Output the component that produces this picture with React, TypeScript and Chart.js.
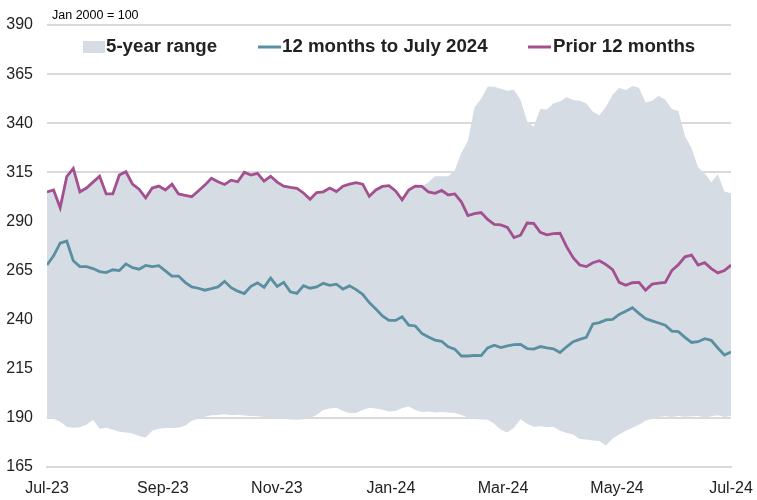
import React, { useEffect, useRef } from "react";
import { Chart, registerables } from "chart.js";

Chart.register(...registerables);

// Time axis: days since 1 Jul 2023 (0 … 366)
const tickDays = [0, 62, 123, 184, 244, 305, 366];
const tickLabels = ["Jul-23", "Sep-23", "Nov-23", "Jan-24", "Mar-24", "May-24", "Jul-24"];
const yTicks = [165, 190, 215, 240, 265, 290, 315, 340, 365, 390];

const legendLabels = ["5-year range", "12 months to July 2024", "Prior 12 months"];
const noteText = "Jan 2000 = 100";

// 12 months to July 2024
const latest12m = [
  267.8, 272.5, 279, 280, 270, 267, 267, 266, 264.5, 264, 265.4, 265, 268.4, 266.5, 265.7,
  267.6, 267, 267.5, 264.8, 262.2, 262.2, 259, 256.7, 256, 255, 255.8, 256.7, 259.5, 256.3,
  254.5, 253.3, 257, 258.7, 256.5, 261.2, 256.9, 259, 254.2, 253.4, 257.3, 256, 256.7, 258.5,
  257.5, 258.1, 255.6, 257.2, 255.3, 252.9, 248.7, 245.4, 241.9, 239.6, 239.6, 241.5, 237.2,
  236.8, 233, 231.2, 229.6, 229, 226.2, 225, 221.5, 221.5, 221.8, 221.7, 225.6, 227, 225.8,
  226.6, 227.3, 227.4, 225.3, 225, 226.3, 225.6, 225.2, 223.3, 226.2, 228.8, 230, 231, 237.8,
  238.5, 239.9, 240.2, 242.7, 244.3, 246.1, 243.2, 240.6, 239.4, 238.3, 237.2, 234.2, 233.9,
  231, 228.4, 228.8, 230.3, 229.5, 225.6, 222, 223.5,
];

// Prior 12 months
const prior12m = [
  305, 306, 297, 312.8, 317, 305.1, 307, 310, 313, 304, 304, 313.6, 315.3, 309, 306.4, 302,
  307, 308, 306, 309, 304, 303.3, 302.6, 305.5, 308.5, 312, 310.2, 308.8, 311, 310.2, 315,
  313.6, 314.5, 310.5, 313, 310, 308, 307.3, 306.9, 304.5, 301.3, 304.7, 305.1, 307, 305.2,
  307.9, 309, 309.7, 309, 302.8, 306, 307.8, 308.2, 305.5, 301, 306, 308, 307.8, 305, 304.3,
  305.8, 303.5, 304, 300, 293, 294, 294.5, 291, 288.5, 288.2, 287, 281.8, 283, 289.2, 289,
  284.5, 283.2, 283.8, 284, 277.2, 271.5, 267.8, 267, 269, 270, 268, 265.5, 259, 257.5, 258.8,
  259, 255, 258.1, 258.6, 259, 265, 268, 272, 272.9, 267.8, 269, 266, 263.8, 265, 267.8,
];

// 5-year range: upper bound
const rangeHigh = [
  305, 306, 297, 312.8, 317, 305.1, 307, 310, 313, 304, 304, 313.6, 315.3, 309, 306.4, 302,
  307, 308, 306, 309, 304, 303.3, 302.6, 305.5, 308.5, 312, 310.2, 308.8, 311, 310.2, 315,
  313.6, 314.5, 310.5, 313, 310, 308, 307.3, 306.9, 304.5, 301.3, 304.7, 305.1, 307, 305.2,
  307.9, 309, 309.7, 309, 302.8, 306, 307.8, 308.2, 305.5, 301, 306, 308, 307.8, 310, 313,
  313, 313, 316, 325, 331, 348, 352.5, 358.6, 358.6, 357.5, 356.5, 357, 352, 341, 338.2,
  347.2, 347, 350, 351, 353.3, 351.8, 351.5, 350, 345.9, 344, 348.5, 354.5, 358, 356.8, 359,
  358, 350.5, 351.5, 354, 352, 347.2, 346.2, 333.5, 327.3, 317.5, 314.5, 310, 314, 305.3, 304.3,
];

// 5-year range: lower bound
const rangeLow = [
  190, 189.5, 188, 185.5, 185, 185.2, 186.5, 189, 184.5, 185, 184, 183, 182.5, 182, 180.8,
  180, 183.5, 184.5, 184.8, 184.9, 185, 186, 188.5, 189.5, 190.6, 191.3, 191.5, 191.8, 191.3,
  191.6, 191.2, 191, 190.8, 190.5, 190, 189.8, 189.5, 189.2, 189, 189.3, 190, 191.5, 194,
  194.8, 195.1, 193.5, 192.5, 192.5, 194, 195.2, 194.8, 194.2, 193.2, 193.5, 195, 195.8, 194,
  193, 193.2, 192.8, 193, 192.7, 192.5, 191.5, 190.2, 189.5, 189.2, 189, 187, 184, 182.5, 185,
  189.3, 187, 185.5, 185.8, 185.3, 185.5, 183.5, 182.3, 181.5, 179.3, 179, 178.5, 178.2, 176,
  179.5, 181.5, 183.5, 185, 186.5, 188.5, 189.5, 190.5, 190.8, 190.5, 191, 190.6, 190.8, 191,
  190.2, 190.8, 191.3, 190.5, 191,
];

const BAND = "#d5dce4";
const BLUE = "#5a8fa1";
const PURPLE = "#a44f8f";
const TEXT = "#222222";
const GRID = "#d9d9d9";
const FONT = "'Liberation Sans', Arial, sans-serif";

const totalDays = 366;
const toPoints = (vals: number[]) =>
  vals.map((v, i) => ({ x: (i * totalDays) / (vals.length - 1), y: v }));

const legendPlugin = {
  id: "customLegend",
  afterDraw(chart: any) {
    const ctx = chart.ctx;
    const area = chart.chartArea;
    ctx.save();
    // note above the plot
    ctx.font = `12.5px ${FONT}`;
    ctx.fillStyle = "#000";
    ctx.textBaseline = "middle";
    ctx.textAlign = "left";
    ctx.fillText(noteText, area.left + 5, 16);

    const y = 47;
    ctx.font = `bold 18.7px ${FONT}`;
    // item 1: band
    ctx.fillStyle = BAND;
    ctx.fillRect(83, y - 6, 22, 12);
    ctx.fillStyle = TEXT;
    ctx.fillText(legendLabels[0], 106, y);
    // item 2: blue line
    ctx.strokeStyle = BLUE;
    ctx.lineWidth = 3;
    ctx.beginPath();
    ctx.moveTo(258, y);
    ctx.lineTo(281, y);
    ctx.stroke();
    ctx.fillText(legendLabels[1], 282, y);
    // item 3: purple line
    ctx.strokeStyle = PURPLE;
    ctx.beginPath();
    ctx.moveTo(528, y);
    ctx.lineTo(551, y);
    ctx.stroke();
    ctx.fillText(legendLabels[2], 553, y);
    ctx.restore();
  },
};

export default function App() {
  const ref = useRef<HTMLCanvasElement | null>(null);

  useEffect(() => {
    if (!ref.current) return;
    const chart = new Chart(ref.current, {
      type: "line",
      data: {
        datasets: [
          {
            label: legendLabels[0],
            data: toPoints(rangeHigh),
            borderWidth: 0,
            pointRadius: 0,
            backgroundColor: BAND,
            borderColor: BAND,
            fill: "+1",
            order: 4,
          } as any,
          {
            label: "low",
            data: toPoints(rangeLow),
            borderWidth: 0,
            pointRadius: 0,
            backgroundColor: BAND,
            borderColor: BAND,
            fill: false,
            order: 5,
          },
          {
            label: legendLabels[2],
            data: toPoints(prior12m),
            borderColor: PURPLE,
            borderWidth: 2.8,
            pointRadius: 0,
            fill: false,
            order: 2,
          },
          {
            label: legendLabels[1],
            data: toPoints(latest12m),
            borderColor: BLUE,
            borderWidth: 2.8,
            pointRadius: 0,
            fill: false,
            order: 1,
          },
        ],
      },
      options: {
        animation: false,
        responsive: true,
        maintainAspectRatio: false,
        layout: { padding: { top: 25, right: 26, left: 0, bottom: 0 } },
        plugins: {
          legend: { display: false },
          tooltip: { enabled: false },
        },
        scales: {
          x: {
            type: "linear",
            min: 0,
            max: totalDays,
            afterBuildTicks: (scale: any) => {
              scale.ticks = tickDays.map((v) => ({ value: v }));
            },
            afterFit: (scale: any) => {
              scale.height = 33;
              scale.paddingLeft = 0;
              scale.paddingRight = 0;
            },
            ticks: {
              autoSkip: false,
              maxRotation: 0,
              padding: 12,
              color: TEXT,
              font: { family: FONT, size: 16 },
              callback: (v: any) => {
                const idx = tickDays.indexOf(Number(v));
                return idx >= 0 ? tickLabels[idx] : "";
              },
            },
            grid: { display: false, drawTicks: false },
            border: { display: true, color: GRID, width: 2 },
          },
          y: {
            type: "linear",
            min: 165,
            max: 390,
            afterBuildTicks: (scale: any) => {
              scale.ticks = yTicks.map((v) => ({ value: v }));
            },
            afterFit: (scale: any) => {
              scale.width = 47;
              scale.paddingTop = 0;
              scale.paddingBottom = 0;
            },
            ticks: {
              padding: 14,
              color: TEXT,
              font: { family: FONT, size: 16 },
            },
            grid: { color: GRID, lineWidth: 2, drawTicks: false },
            border: { display: false },
          },
        },
      },
      plugins: [legendPlugin],
    });
    return () => chart.destroy();
  }, []);

  return (
    <div style={{ position: "fixed", left: 0, top: 0, width: 757, height: 500, background: "#fff" }}>
      <canvas ref={ref} />
    </div>
  );
}
